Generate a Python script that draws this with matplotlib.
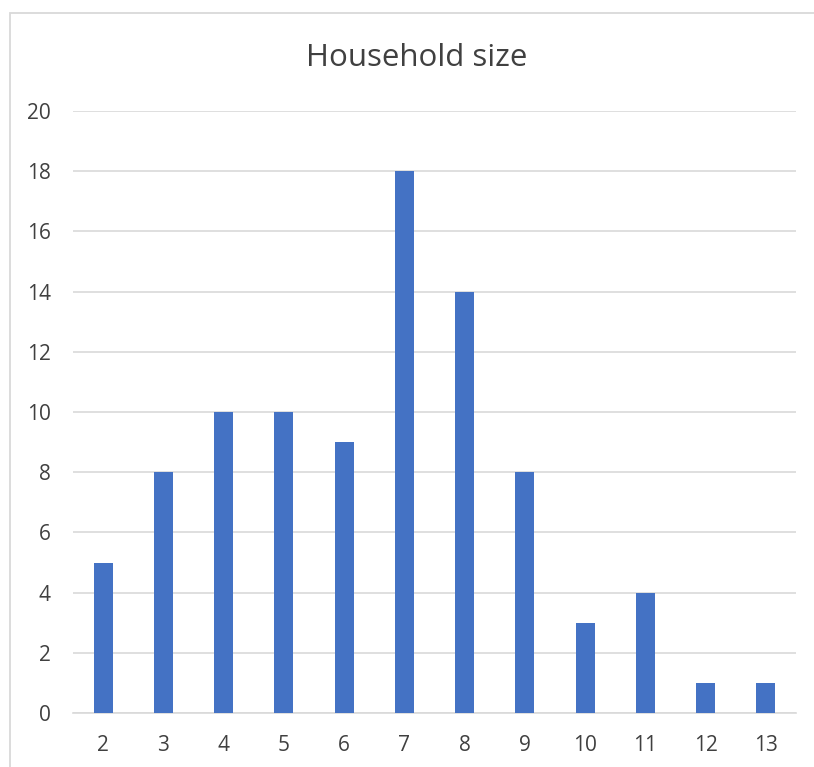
import matplotlib
matplotlib.use("Agg")
import matplotlib.pyplot as plt
from matplotlib.patches import Rectangle

plt.rcParams['font.family'] = ['Open Sans', 'DejaVu Sans']

sizes = ['2', '3', '4', '5', '6', '7', '8', '9', '10', '11', '12', '13']
counts = [5, 8, 10, 10, 9, 18, 14, 8, 3, 4, 1, 1]
y_ticks = [0, 2, 4, 6, 8, 10, 12, 14, 16, 18, 20]

W, H = 814, 767
fig = plt.figure(figsize=(W / 100, H / 100), dpi=100)

# chart frame (open on right and bottom)
fig.patches.append(Rectangle((9.5 / W, -0.05), 1.2, 1 - 12.5 / H + 0.05,
                             transform=fig.transFigure, fill=False,
                             edgecolor='#d9d9d9', linewidth=1.3))

ax = fig.add_axes([73 / W, 1 - 713 / H, (796 - 73) / W, (713 - 111) / H])
x = range(len(sizes))
ax.bar(x, counts, width=0.315, color='#4472C4', zorder=3)

ax.set_xlim(-0.5, len(sizes) - 0.5)
ax.set_ylim(0, 20)
ax.set_yticks(y_ticks)
ax.set_xticks(list(x))
ax.set_xticklabels(sizes)
ax.grid(axis='y', color='#d9d9d9', linewidth=1.2, zorder=0)
for s in ['top', 'right', 'left']:
    ax.spines[s].set_visible(False)
ax.spines['bottom'].set_color('#d9d9d9')
ax.spines['bottom'].set_linewidth(1.2)
ax.tick_params(axis='both', length=0, labelsize=15, labelcolor='#404040')
ax.tick_params(axis='y', pad=16)
ax.tick_params(axis='x', pad=16)

fig.text(417 / W, 1 - 58 / H, 'Household size', ha='center', va='center',
         fontsize=22.5, color='#404040')

fig.savefig('out.png', dpi=100)
